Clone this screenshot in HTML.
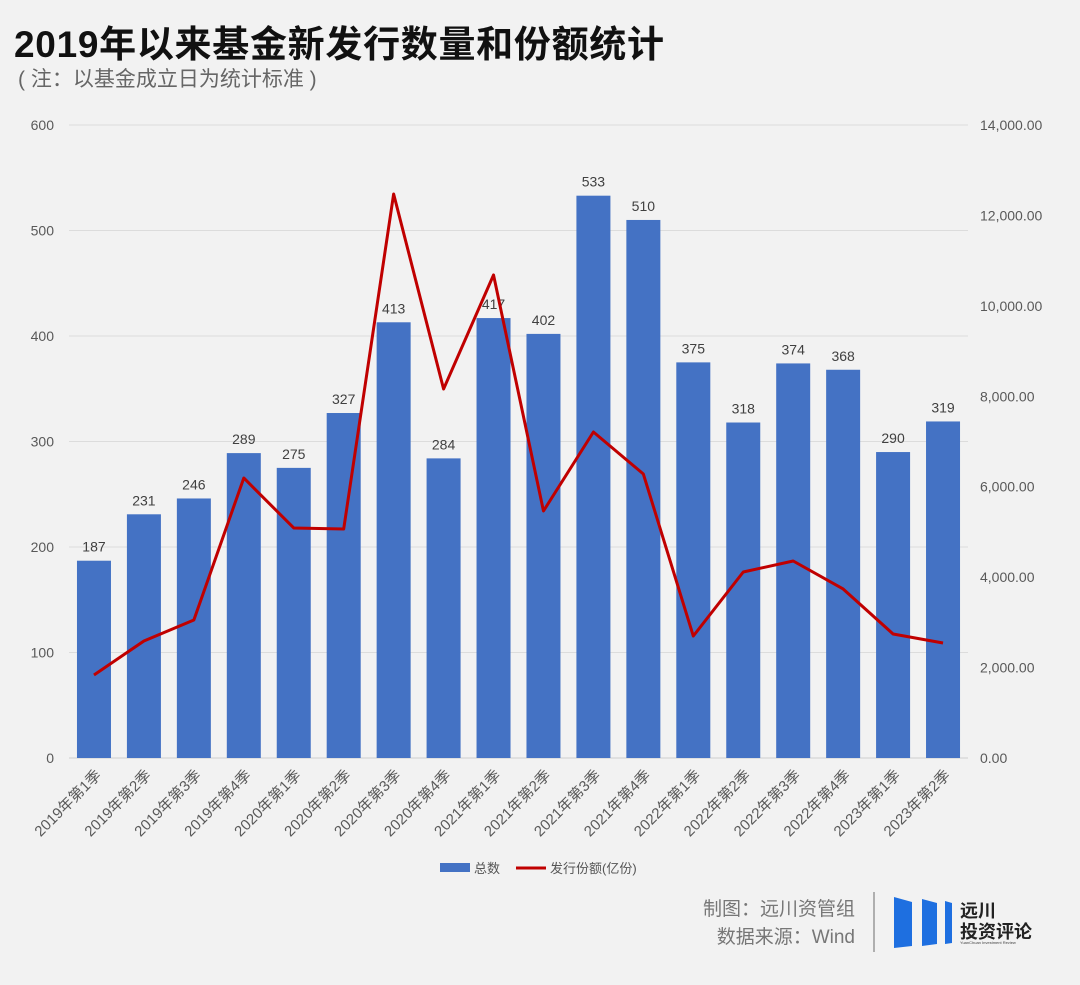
<!DOCTYPE html>
<html><head><meta charset="utf-8"><style>
body{margin:0;background:#f2f2f2;width:1080px;height:980px;overflow:hidden;font-family:"Liberation Sans","Noto Sans CJK SC",sans-serif}
</style></head><body>
<svg id="c" width="1080" height="980" xmlns="http://www.w3.org/2000/svg">
<text x="14" y="57" font-size="37" font-weight="bold" fill="#111" font-family="Liberation Sans,Noto Sans CJK SC,sans-serif" textLength="650">2019年以来基金新发行数量和份额统计</text>
<text x="18" y="86" font-size="21" fill="#666" font-family="Liberation Sans,Noto Sans CJK SC,sans-serif">( 注：以基金成立日为统计标准 )</text>
<g id="grid"></g><g id="bars"></g><g id="line"></g><g id="axes"></g>
<g>
<rect x="440" y="863" width="30" height="9" fill="#4472c4"/>
<text x="474" y="873" font-size="13" fill="#555" font-family="Liberation Sans,Noto Sans CJK SC,sans-serif">总数</text>
<line x1="516" y1="868" x2="546" y2="868" stroke="#c00000" stroke-width="3"/>
<text x="550" y="873" font-size="13" fill="#555" font-family="Liberation Sans,Noto Sans CJK SC,sans-serif">发行份额(亿份)</text>
</g>
<text x="855" y="915" text-anchor="end" font-size="19" fill="#777" font-family="Liberation Sans,Noto Sans CJK SC,sans-serif">制图：远川资管组</text>
<text x="855" y="943" text-anchor="end" font-size="19" fill="#777" font-family="Liberation Sans,Noto Sans CJK SC,sans-serif">数据来源：Wind</text>
<line x1="874" y1="892" x2="874" y2="952" stroke="#999" stroke-width="1.5"/>
<g>
<polygon points="894,897 912,902 912,946 894,948" fill="#1e6fe0"/>
<polygon points="922,899 937,903 937,944 922,946" fill="#1e6fe0"/>
<polygon points="945,901 952,903 952,943 945,944" fill="#1e6fe0"/>
<text x="960" y="917" font-size="18" font-weight="bold" fill="#222" font-family="Noto Sans CJK SC,sans-serif">远川</text>
<text x="960" y="938" font-size="18" font-weight="bold" fill="#222" font-family="Noto Sans CJK SC,sans-serif">投资评论</text>
<text x="960" y="944" font-size="4" fill="#444">YuanChuan Investment Review</text>
</g>
</svg>
<script>
const categories=["2019年第1季","2019年第2季","2019年第3季","2019年第4季","2020年第1季","2020年第2季","2020年第3季","2020年第4季","2021年第1季","2021年第2季","2021年第3季","2021年第4季","2022年第1季","2022年第2季","2022年第3季","2022年第4季","2023年第1季","2023年第2季"];
const counts=[187,231,246,289,275,327,413,284,417,402,533,510,375,318,374,368,290,319];
const shares=[1836,2588,3052,6193,5087,5065,12474,8161,10683,5463,7210,6281,2698,4114,4357,3738,2743,2544];
const leftTicks=[0,100,200,300,400,500,600];
const rightTicks=[0,2000,4000,6000,8000,10000,12000,14000];
const NS="http://www.w3.org/2000/svg";
const X0=69,X1=968,Y0=758,Y1=125;
const bw=(X1-X0)/categories.length;
const xc=i=>X0+bw*(i+0.5);
const yL=v=>Y0-(v/600)*(Y0-Y1);
const yR=v=>Y0-(v/14000)*(Y0-Y1);
const F='Liberation Sans,Noto Sans CJK SC,sans-serif';
function mk(t,a,p){const e=document.createElementNS(NS,t);for(const k in a)e.setAttribute(k,a[k]);p.appendChild(e);return e;}
const grid=document.getElementById('grid'),bars=document.getElementById('bars'),line=document.getElementById('line'),axes=document.getElementById('axes');
leftTicks.forEach(v=>{
 const g=mk('line',{x1:X0,x2:X1,y1:yL(v),y2:yL(v),stroke:v?'#dcdcdc':'#cfcfcf'},grid);
 
 
 const t=mk('text',{x:54,y:yL(v)+5,'text-anchor':'end','font-size':14,fill:'#595959','font-family':F},axes);t.textContent=v;
 
 
});
rightTicks.forEach(v=>{
 const t=mk('text',{x:980,y:yR(v)+5,'font-size':14,fill:'#595959','font-family':F},axes);
 t.textContent=v.toLocaleString('en-US',{minimumFractionDigits:2});
 
 
});
counts.forEach((v,i)=>{
 const r=mk('rect',{x:xc(i)-17,y:yL(v),width:34,height:Y0-yL(v),fill:'#4472c4'},bars);
 
 
 const t=mk('text',{x:xc(i),y:yL(v)-9,'text-anchor':'middle','font-size':14,fill:'#404040','font-family':F},bars);t.textContent=v;
 
 
 const c=mk('text',{x:xc(i)+8,y:776,'text-anchor':'end','font-size':15,fill:'#595959','font-family':F,transform:`rotate(-45 ${xc(i)+8} 776)`},axes);c.textContent=categories[i];
 
 
});
const p=mk('polyline',{points:shares.map((v,i)=>xc(i)+','+yR(v)).join(' '),fill:'none',stroke:'#c00000','stroke-width':3,'stroke-linejoin':'round'},line);


</script>
</body></html>
